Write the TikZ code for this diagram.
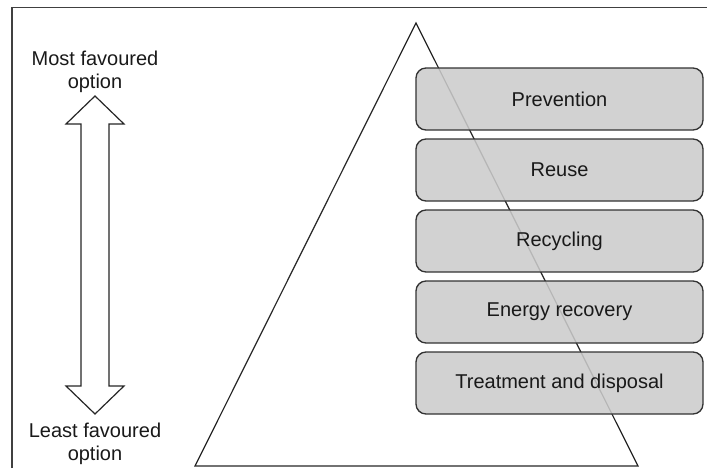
\documentclass[tikz,border=0pt]{standalone}
\usepackage{fontspec}
\setmainfont{Liberation Sans}
\definecolor{boxfill}{RGB}{203,203,203}
\begin{document}
\begin{tikzpicture}[x=0.75pt,y=-0.75pt,
  level/.style={draw=black!80,line width=1pt,rounded corners=7.5pt,fill=boxfill,fill opacity=0.87,draw opacity=1,text opacity=1,
    minimum width=215.25pt,minimum height=46.5pt,inner sep=0pt,font=\fontsize{15}{17}\selectfont,text=black!90},
  lbl/.style={align=center,font=\fontsize{15}{17}\selectfont,text=black!90,inner sep=0pt},
  outline/.style={draw=black!85,line width=0.9pt,line join=miter}]
\useasboundingbox (0,0) rectangle (707,468);
% frame
\draw[draw=black!75,line width=1pt] (12,468) -- (12,7.5) -- (707,7.5);
% triangle
\coordinate (apex) at (416,23);
\coordinate (bl) at (195,466);
\coordinate (br) at (638,466);
\draw[outline] (apex) -- (br) -- (bl) -- cycle;
% levels
\node[level] (l1) at (559.5,99) {Prevention};
\node[level] (l2) at (559.5,170) {Reuse};
\node[level] (l3) at (559.5,241) {Recycling};
\node[level] (l4) at (559.5,312) {Energy recovery};
\node[level] (l5) at (559.5,383) {Treatment and disposal};
% double arrow
\draw[outline,fill=white] (95,96) -- (124,124) -- (109,124) -- (109,386) -- (124,386) -- (95,414)
  -- (66,386) -- (81,386) -- (81,124) -- (66,124) -- cycle;
\node[lbl] (top) at (95,72) {Most favoured\\option};
\node[lbl] (bot) at (95,444) {Least favoured\\option};
\end{tikzpicture}
\end{document}
